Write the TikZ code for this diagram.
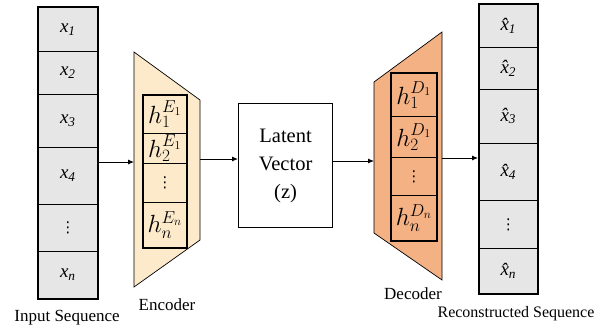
\documentclass[tikz,border=0pt]{standalone}
\usepackage{fontspec}
\setmainfont{Liberation Serif}
\newfontfamily\dejavu{DejaVu Sans}
\usetikzlibrary{arrows.meta,fit}
\definecolor{cellgray}{HTML}{E6E6E6}
\definecolor{encfill}{HTML}{FCEACB}
\definecolor{decfill}{HTML}{F4B183}
\tikzset{
  cell/.style={draw, line width=0.7pt, fill=cellgray, anchor=north west, inner sep=0pt,
    font=\fontsize{19}{19}\selectfont\itshape},
  hcell/.style={draw, line width=0.7pt, anchor=north west, inner sep=0pt,
    font=\fontsize{24}{24}\selectfont},
  outer/.style={draw, line width=2pt, inner sep=0pt},
  lbl/.style={font=\fontsize{17}{17}\selectfont, inner sep=0pt},
  conn/.style={line width=0.9pt, -{Latex[length=6pt,width=5pt]}},
  trap/.style={draw, line width=0.7pt}
}
\newcommand{\smalldots}{{\dejavu\upshape\fontsize{15}{15}\selectfont ⋮}}
\begin{document}
\begin{tikzpicture}[x=1pt,y=-1pt]
\useasboundingbox (0,0) rectangle (597,327);

% Input sequence
\node[cell, minimum width=59pt, minimum height=44pt] (x1) at (38,7) {x\textsubscript{1}};
\node[cell, minimum width=59pt, minimum height=43pt] (x2) at (38,51) {x\textsubscript{2}};
\node[cell, minimum width=59pt, minimum height=53pt] (x3) at (38,94) {x\textsubscript{3}};
\node[cell, minimum width=59pt, minimum height=57pt] (x4) at (38,147) {x\textsubscript{4}};
\node[cell, minimum width=59pt, minimum height=47pt] (x5) at (38,204) {\smalldots};
\node[cell, minimum width=59pt, minimum height=47pt] (x6) at (38,251) {x\textsubscript{n}};
\node[outer, fit=(x1)(x6)] (inp) {};
\node[lbl] (inplbl) at (67,318) {Input Sequence};

% Encoder
\path[trap, fill=encfill] (134,52) coordinate (eTL) -- (200,100) coordinate (eTR)
   -- (200,240) coordinate (eBR) -- (134,287) coordinate (eBL) -- cycle;
\node[hcell, minimum width=43pt, minimum height=38pt] (e1) at (143,95) {$h_1^{E_1}$};
\node[hcell, minimum width=43pt, minimum height=30pt] (e2) at (143,133) {$h_2^{E_1}$};
\node[hcell, minimum width=43pt, minimum height=39pt] (e3) at (143,163) {\smalldots};
\node[hcell, minimum width=43pt, minimum height=45pt] (e4) at (143,202) {$h_n^{E_n}$};
\node[outer, line width=2.2pt, fit=(e1)(e4)] (enc) {};
\node[lbl] (enclbl) at (167,305) {Encoder};

% Latent vector
\node[draw, line width=1.2pt, minimum width=94pt, minimum height=124pt, anchor=north west,
  align=center, font=\fontsize{20.5}{28}\selectfont] (lat) at (238,103) {Latent\\Vector\\(z)};

% Decoder
\path[trap, fill=decfill] (374,82) coordinate (dTL) -- (442,32) coordinate (dTR)
   -- (442,280) coordinate (dBR) -- (374,233) coordinate (dBL) -- cycle;
\node[hcell, minimum width=45pt, minimum height=43pt] (d1) at (391,73) {$h_1^{D_1}$};
\node[hcell, minimum width=45pt, minimum height=41pt] (d2) at (391,116) {$h_2^{D_1}$};
\node[hcell, minimum width=45pt, minimum height=38pt] (d3) at (391,157) {\smalldots};
\node[hcell, minimum width=45pt, minimum height=45pt] (d4) at (391,195) {$h_n^{D_n}$};
\node[outer, line width=2.2pt, fit=(d1)(d4)] (dec) {};
\node[lbl] (declbl) at (413,294) {Decoder};

% Output sequence
\node[cell, minimum width=58pt, minimum height=43pt] (y1) at (479,4) {\^{x}\textsubscript{1}};
\node[cell, minimum width=58pt, minimum height=42pt] (y2) at (479,47) {\^{x}\textsubscript{2}};
\node[cell, minimum width=58pt, minimum height=54pt] (y3) at (479,89) {\^{x}\textsubscript{3}};
\node[cell, minimum width=58pt, minimum height=57pt] (y4) at (479,143) {\^{x}\textsubscript{4}};
\node[cell, minimum width=58pt, minimum height=48pt] (y5) at (479,200) {\smalldots};
\node[cell, minimum width=58pt, minimum height=45pt] (y6) at (479,248) {\^{x}\textsubscript{n}};
\node[outer, fit=(y1)(y6)] (outp) {};
\node[lbl, font=\fontsize{16}{16}\selectfont] (outlbl) at (516,314) {Reconstructed Sequence};

% Connectors
\coordinate (a1) at (134,162);
\coordinate (a2) at (200,159);
\coordinate (a3) at (374,161);
\coordinate (a4) at (442,158);
\draw[conn] (inp.east |- a1) -- (a1);
\draw[conn] (a2) -- (lat.west |- a2);
\draw[conn] (lat.east |- a3) -- (a3);
\draw[conn] (a4) -- (outp.west |- a4);
\end{tikzpicture}
\end{document}
